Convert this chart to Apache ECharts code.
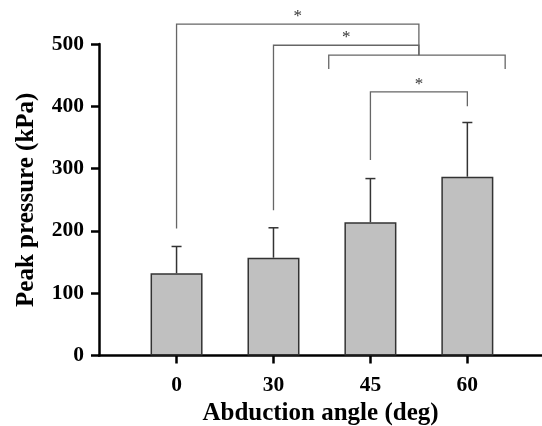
<!DOCTYPE html>
<html>
<head>
<meta charset="utf-8">
<script src="https://cdn.jsdelivr.net/npm/echarts@6/dist/echarts.min.js"></script>
<style>
  html, body { margin: 0; padding: 0; background: #fff; }
  #main { width: 542px; height: 426px; }
</style>
</head>
<body>
<div id="main"></div>
<script>
// bar data
const categories = ['0', '30', '45', '60'];
const peakMean = [132, 157, 214, 287];
const peakErrTop = [175, 205, 284, 374];

// significance brackets (x in category index, y in kPa)
const bracketFrom = [0, 1, 1.57, 2];
const bracketTo = [2.5, 2.5, 3.39, 3];
const bracketY = [532, 498, 482, 423];
const bracketLeftEnd = [204, 233, 460, 314];
const bracketRightEnd = [482, 482, 460, 400];
const bracketStar = [1, 1, 0, 1];

const serif = '"Liberation Serif", "Times New Roman", serif';
const tickIdx = categories.map((c, i) => i);

const barData = peakMean.map((v, i) => [i, v]);
const errData = peakMean.map((v, i) => [i, v, peakErrTop[i]]);
const bracketData = bracketFrom.map((f, i) =>
    [f, bracketTo[i], bracketY[i], bracketLeftEnd[i], bracketRightEnd[i], bracketStar[i]]);

const myChart = echarts.init(document.getElementById('main'));

const option = {
    animation: false,
    grid: { left: 99, right: 0, top: 44, bottom: 70.5, outerBoundsMode: 'none' },
    xAxis: {
        type: 'value',
        min: -0.8,
        max: 3.77,
        splitLine: { show: false },
        axisLine: { show: true, onZero: false, lineStyle: { color: '#000', width: 2.5 } },
        axisTick: { show: true, length: 8, customValues: tickIdx, lineStyle: { color: '#000', width: 2.5 } },
        axisLabel: {
            customValues: tickIdx,
            formatter: v => categories[Math.round(v)],
            margin: 19,
            color: '#000',
            fontFamily: serif,
            fontWeight: 'bold',
            fontSize: 21.5
        },
        name: 'Abduction angle (deg)',
        nameLocation: 'middle',
        nameGap: 39,
        nameTextStyle: { color: '#000', fontFamily: serif, fontWeight: 'bold', fontSize: 25 }
    },
    yAxis: {
        type: 'value',
        min: 0,
        max: 500,
        interval: 100,
        splitLine: { show: false },
        axisLine: { show: true, onZero: false, lineStyle: { color: '#000', width: 2.5 } },
        axisTick: { show: true, length: 8, lineStyle: { color: '#000', width: 2.5 } },
        axisLabel: {
            margin: 15,
            color: '#000',
            fontFamily: serif,
            fontWeight: 'bold',
            fontSize: 21.5
        },
        name: 'Peak pressure (kPa)',
        nameLocation: 'middle',
        nameGap: 60,
        nameTextStyle: { color: '#000', fontFamily: serif, fontWeight: 'bold', fontSize: 25 }
    },
    series: [
        {
            type: 'bar',
            data: barData,
            barWidth: 52,
            itemStyle: { color: '#c0c0c0', borderColor: '#333', borderWidth: 1.5 }
        },
        {
            type: 'custom',
            data: errData,
            encode: { x: 0, y: [1, 2] },
            z: 3,
            renderItem: (params, api) => {
                const base = api.coord([api.value(0), api.value(1)]);
                const top = api.coord([api.value(0), api.value(2)]);
                const style = { stroke: '#333', lineWidth: 1.5 };
                return {
                    type: 'group',
                    children: [
                        { type: 'line', shape: { x1: base[0], y1: base[1], x2: top[0], y2: top[1] }, style },
                        { type: 'line', shape: { x1: top[0] - 5, y1: top[1], x2: top[0] + 5, y2: top[1] }, style }
                    ]
                };
            }
        },
        {
            type: 'custom',
            data: bracketData,
            encode: { x: [0, 1], y: [2, 3, 4] },
            clip: false,
            z: 4,
            renderItem: (params, api) => {
                const x1 = api.value(0), x2 = api.value(1), y = api.value(2);
                const pts = [
                    api.coord([x1, api.value(3)]),
                    api.coord([x1, y]),
                    api.coord([x2, y]),
                    api.coord([x2, api.value(4)])
                ];
                const children = [{
                    type: 'polyline',
                    shape: { points: pts },
                    style: { stroke: '#666', lineWidth: 1.3, fill: null }
                }];
                if (api.value(5)) {
                    const mid = api.coord([(x1 + x2) / 2, y]);
                    children.push({
                        type: 'text',
                        style: {
                            text: '*',
                            x: mid[0],
                            y: mid[1] + 1,
                            align: 'center',
                            verticalAlign: 'bottom',
                            fill: '#333',
                            font: '17px ' + serif
                        }
                    });
                }
                return { type: 'group', children };
            }
        }
    ]
};
myChart.setOption(option);
</script>
</body>
</html>
